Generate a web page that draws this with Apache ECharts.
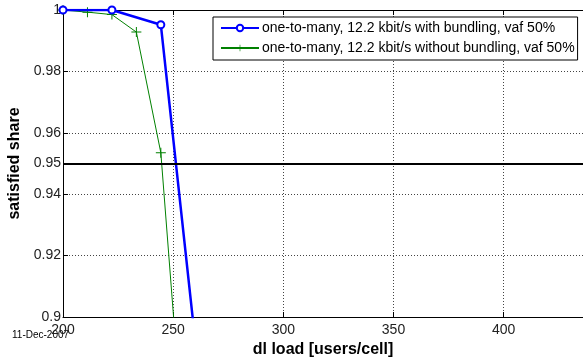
<!DOCTYPE html>
<html>
<head>
<meta charset="utf-8">
<script src="https://cdn.jsdelivr.net/npm/echarts@6/dist/echarts.min.js"></script>
<style>
html,body{margin:0;padding:0;background:#fff;}
#c{width:583px;height:358px;}
</style>
</head>
<body>
<div id="c"></div>
<script>
// ---- data ----
var seriesNames = [
  'one-to-many, 12.2 kbit/s with bundling, vaf 50%',
  'one-to-many, 12.2 kbit/s without bundling, vaf 50%'
];
var bundlingX = [200, 222.2, 244.4, 266.7];
var bundlingY = [1, 1, 0.9952, 0.848];
var noBundlingX = [200, 211.1, 222.2, 233.3, 244.4, 255.6];
var noBundlingY = [1, 0.9993, 0.9985, 0.9928, 0.9535, 0.85];
var thresholdValue = 0.95;
var xTicks = [200, 250, 300, 350, 400];
var yTicks = [0.9, 0.92, 0.94, 0.95, 0.96, 0.98, 1];
var dateStamp = '11-Dec-2007';
var xTitle = 'dl load [users/cell]';
var yTitle = 'satisfied share';

function pairs(xs, ys) { return xs.map(function (x, i) { return [x, ys[i]]; }); }
function isTick(list, v) { return list.some(function (t) { return Math.abs(t - v) < 1e-9; }); }

var FONT = '"Liberation Sans", Arial, sans-serif';
var chart = echarts.init(document.getElementById('c'), null, {renderer: 'canvas'});
var plusPath = 'path://M4.5,0h1v4.5h4.5v1h-4.5v4.5h-1v-4.5h-4.5v-1h4.5z';

chart.setOption({
  animation: false,
  backgroundColor: '#fff',
  grid: {left: 63, top: 10, right: 0, bottom: 41, containLabel: false, outerBoundsMode: 'none'},
  legend: {
    left: 213, top: 17, orient: 'vertical',
    backgroundColor: '#fff', borderColor: '#000', borderWidth: 1, borderRadius: 0,
    padding: [4, 3, 5, 7], itemGap: 6, itemWidth: 38, itemHeight: 8,
    textStyle: {fontFamily: FONT, fontSize: 14, color: '#000', padding: [0, 0, 0, -2]},
    data: seriesNames
  },
  xAxis: [{
    type: 'value', position: 'bottom', min: 200, max: 436, interval: 50,
    name: xTitle, nameLocation: 'middle', nameGap: 24,
    nameTextStyle: {fontFamily: FONT, fontSize: 16, fontWeight: 'bold', color: '#000'},
    axisLine: {onZero: false, lineStyle: {color: '#000', width: 1}},
    axisTick: {inside: true, length: 5, lineStyle: {color: '#000'}},
    axisLabel: {fontFamily: FONT, fontSize: 14, color: '#222', margin: 6,
      showMaxLabel: false,
      formatter: function (v) { return isTick(xTicks, v) ? String(v) : ''; }},
    splitLine: {show: true, lineStyle: {color: '#444', type: [1, 2], width: 1}}
  }, {
    type: 'value', position: 'top', min: 200, max: 436, interval: 50,
    axisLine: {onZero: false, lineStyle: {color: '#000', width: 1}},
    axisTick: {inside: true, length: 5, lineStyle: {color: '#000'}},
    axisLabel: {show: false}, splitLine: {show: false}
  }],
  yAxis: [{
    type: 'value', position: 'left', min: 0.9, max: 1, interval: 0.02,
    name: yTitle, nameLocation: 'middle', nameGap: 31, nameRotate: 90,
    nameTextStyle: {fontFamily: FONT, fontSize: 16, fontWeight: 'bold', color: '#000'},
    axisLine: {onZero: false, show: true, lineStyle: {color: '#000', width: 1}},
    axisTick: {show: true, inside: true, length: 5, lineStyle: {color: '#000'}},
    axisLabel: {fontFamily: FONT, fontSize: 14, color: '#222', margin: 2,
      formatter: function (v) { return isTick(yTicks, v) ? String(+v.toFixed(2)) : ''; }},
    splitLine: {show: true, lineStyle: {color: '#444', type: [1, 2], width: 1}}
  }, {
    type: 'value', position: 'left', min: 0.9, max: 1, interval: 0.05,
    axisLine: {show: false},
    axisTick: {show: false},
    axisLabel: {fontFamily: FONT, fontSize: 14, color: '#222', margin: 2,
      formatter: function (v) { return Math.abs(v - thresholdValue) < 1e-9 ? String(thresholdValue) : ''; }},
    splitLine: {show: false}
  }],
  graphic: [{
    type: 'text', left: 12, top: 330,
    style: {text: dateStamp, font: '10px ' + FONT, fill: '#000'}
  }],
  series: [{
    name: seriesNames[1], type: 'line', data: pairs(noBundlingX, noBundlingY),
    symbol: plusPath, symbolSize: 10, showAllSymbol: true,
    lineStyle: {color: '#008000', width: 1},
    itemStyle: {color: '#008000'},
    z: 3
  }, {
    name: seriesNames[0], type: 'line', data: pairs(bundlingX, bundlingY),
    symbol: 'emptyCircle', symbolSize: 7, showAllSymbol: true,
    lineStyle: {color: '#0000ff', width: 2.5},
    itemStyle: {color: '#0000ff', borderWidth: 1.5},
    z: 4,
    markLine: {
      silent: true, symbol: 'none', label: {show: false},
      lineStyle: {color: '#000', width: 2, type: 'solid'},
      data: [{yAxis: thresholdValue}]
    }
  }]
});
</script>
</body>
</html>
